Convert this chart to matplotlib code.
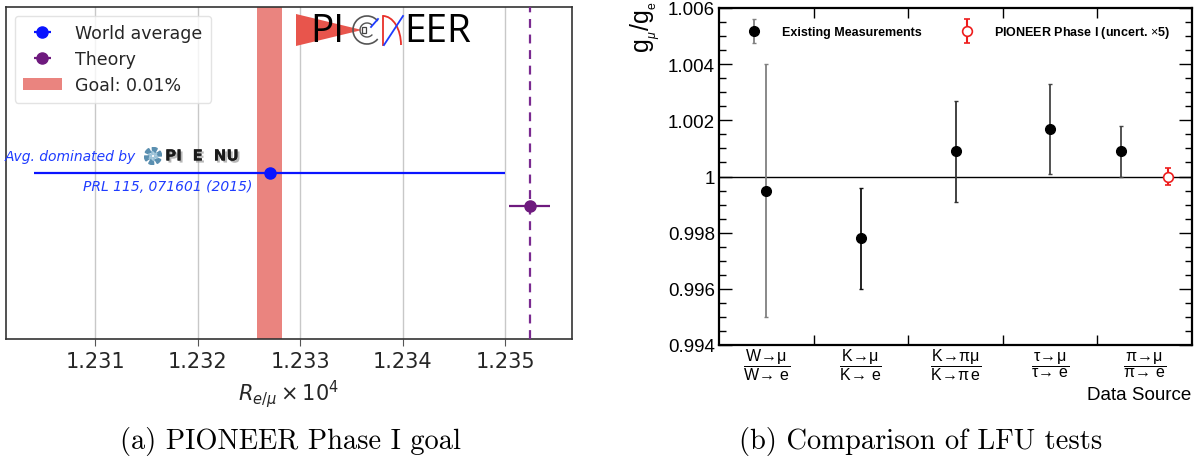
import matplotlib
matplotlib.use("Agg")
import matplotlib.pyplot as plt
import numpy as np
from matplotlib.patches import Polygon, Arc, Rectangle, Wedge
from matplotlib.legend_handler import HandlerErrorbar
import matplotlib.patheffects as pe

plt.rcParams['mathtext.fontset'] = 'custom'
plt.rcParams['mathtext.rm'] = 'Liberation Sans'
plt.rcParams['mathtext.it'] = 'Liberation Sans:italic'
plt.rcParams['mathtext.bf'] = 'Liberation Sans:bold'

# ---------------- data: panel (a) ----------------
wa_value = 1.2327          # world average R_e/mu x 10^4
wa_err = 0.0023
theory_value = 1.23524
theory_err = 0.0002
goal_rel = 1e-4            # 0.01 %
row_world = 0.5
row_theory = 0.4
xticks_a = [1.231, 1.232, 1.233, 1.234, 1.235]

# ---------------- data: panel (b) ----------------
cat_labels = [r'$\dfrac{\mathrm{W\!\rightarrow\!\mu}}{\mathrm{W\!\rightarrow\,e}}$',
              r'$\dfrac{\mathrm{K\!\rightarrow\!\mu}}{\mathrm{K\!\rightarrow\,e}}$',
              r'$\dfrac{\mathrm{K\!\rightarrow\!\pi\mu}}{\mathrm{K\!\rightarrow\!\pi\,e}}$',
              r'$\dfrac{\mathrm{\tau\!\rightarrow\!\mu}}{\mathrm{\tau\!\rightarrow\,e}}$',
              r'$\dfrac{\mathrm{\pi\!\rightarrow\!\mu}}{\mathrm{\pi\!\rightarrow\,e}}$']
meas_bin = [0, 1, 2, 3, 4]
meas_val = [0.9995, 0.9978, 1.0009, 1.0017, 1.0009]
meas_err = [0.0045, 0.0018, 0.0018, 0.0016, 0.0009]
pioneer_bin = 4
pioneer_val = 1.0000
pioneer_err = 0.0003
yticks_b = [0.994, 0.996, 0.998, 1.0, 1.002, 1.004, 1.006]
ytick_labels_b = ['0.994', '0.996', '0.998', '1', '1.002', '1.004', '1.006']

W, H = 1199, 460
fig = plt.figure(figsize=(W / 100, H / 100), dpi=100)

def box(x0, y0, x1, y1):
    return [x0 / W, 1 - y1 / H, (x1 - x0) / W, (y1 - y0) / H]

# ================= panel (a) =================
axa = fig.add_axes(box(6, 8, 572, 340))
blue = '#0a14ff'
purple = '#6e1a7e'
band_col = '#ea847f'
half = wa_value * goal_rel
axa.axvspan(wa_value - half, wa_value + half, color=band_col, lw=0, label='Goal: 0.01%', zorder=1)
axa.errorbar([wa_value], [row_world], xerr=[wa_err], fmt='o', color=blue, ms=8, lw=1.6,
             label='World average', zorder=4)
axa.errorbar([theory_value], [row_theory], xerr=[theory_err], fmt='o', color=purple, ms=8,
             lw=1.6, label='Theory', zorder=4)
axa.axvline(theory_value, color='#7a2a90', ls='--', lw=1.6, dashes=(4, 3), zorder=3)
axa.set_xlim(1.23013, 1.23565)
axa.set_ylim(0, 1)
axa.set_yticks([])
axa.set_xticks(xticks_a)
axa.set_xticklabels([f'{v:.3f}' for v in xticks_a], fontsize=15, color='#262626')
axa.tick_params(axis='x', length=5, color='#555555', pad=4)
axa.grid(axis='x', color='#c8c8c8', lw=1)
axa.set_axisbelow(True)
for s in axa.spines.values():
    s.set_color('#333333')
    s.set_linewidth(1.2)
axa.set_xlabel(r'$R_{e/\mu}\times10^4$', fontsize=15, color='#262626',
               math_fontfamily='dejavusans', labelpad=4)
h, l = axa.get_legend_handles_labels()
order = [l.index('World average'), l.index('Theory'), l.index('Goal: 0.01%')]
leg = axa.legend([h[i] for i in order], [l[i] for i in order], loc='upper left',
                 fontsize=12.5, framealpha=0.8, edgecolor='#dddddd', handlelength=2.2,
                 labelspacing=0.45, borderpad=0.5)
for t in leg.get_texts():
    t.set_color('#262626')

def afrac(px, py):
    return ((px - 6) / 566, (340 - py) / 332)

axa.text(*afrac(136, 157), 'Avg. dominated by', transform=axa.transAxes, ha='right', va='center',
         fontsize=10, style='italic', color='#1f3cff')
axa.text(*afrac(252, 187), 'PRL 115, 071601 (2015)', transform=axa.transAxes, ha='right', va='center',
         fontsize=10, style='italic', color='#1f3cff')
axa.text(*afrac(165, 157), 'PI  E  NU', transform=axa.transAxes, ha='left', va='center',
         fontsize=11, fontweight='bold', color='#1a1a1a', family='DejaVu Sans',
         path_effects=[pe.withSimplePatchShadow(offset=(1.5, -1.5), shadow_rgbFace='#888888', alpha=0.6),
                       pe.Normal()])

# PIENU swirl icon
ic = fig.add_axes(box(144, 146, 162, 168))
ic.set_xlim(-1, 1); ic.set_ylim(-1, 1); ic.set_aspect('equal'); ic.axis('off')
for k in range(6):
    ang = k * 60
    ic.add_patch(Wedge((0, 0), 0.95, ang, ang + 35, width=0.45, color='#5a8fb0'))
    ic.add_patch(Wedge((0, 0), 0.5, ang + 30, ang + 60, width=0.3, color='#9cc3d8'))

# PIONEER logo (pixel coordinates, y upward = -py)
lg = fig.add_axes(box(290, 6, 480, 56))
lg.set_xlim(290, 480); lg.set_ylim(-56, -6); lg.set_aspect('equal'); lg.axis('off')
lg.add_patch(Polygon([[296, -15], [296, -47], [362, -31]], closed=True, color='#e8554c', lw=0))
lg.text(310, -32, 'PI', fontsize=28, family='Open Sans', va='center', ha='left', color='black')
lg.add_patch(Arc((367, -31), 28, 28, theta1=40, theta2=320, color='#555555', lw=1.2))
lg.add_patch(Arc((367, -31), 14, 14, theta1=40, theta2=320, color='#555555', lw=1.0))
lg.add_patch(Rectangle((362, -34), 4, 6, fill=False, ec='#444444', lw=0.9))
lg.plot([371, 378], [-28, -20], color='#1e3cff', lw=1.3)
lg.plot([383, 383], [-17, -46], color='#e8302a', lw=1.3)
lg.add_patch(Arc((383, -46), 36, 58, theta1=0, theta2=90, color='#e8302a', lw=1.3))
lg.plot([384, 403], [-46, -17], color='#1e3cff', lw=1.3)
lg.text(404, -32, 'EER', fontsize=28, family='Open Sans', va='center', ha='left', color='black')

# ================= panel (b) =================
axb = fig.add_axes(box(719, 9, 1192, 346))
hf = 'Liberation Sans'
mx = [b + 0.5 for b in meas_bin]
mx[-1] = meas_bin[-1] + 0.25
bar_cols = ['#808080', '#111111', '#333333', '#444444', '#444444']
first_eb = None
for i in range(len(meas_val)):
    eb = axb.errorbar([mx[i]], [meas_val[i]], yerr=[meas_err[i]], fmt='o', color='black',
                      ecolor=bar_cols[i], ms=7, elinewidth=1.3, capsize=1.5, capthick=1.0, zorder=4)
    if first_eb is None:
        first_eb = eb
pe_eb = axb.errorbar([pioneer_bin + 0.75], [pioneer_val], yerr=[pioneer_err], fmt='o', mfc='white',
                     mec='#ee1c1c', ecolor='#ee1c1c', ms=7, mew=1.2, elinewidth=1.5, capsize=2,
                     capthick=1.5, zorder=4)
axb.axhline(1.0, color='black', lw=1.0, zorder=2)
axb.set_xlim(0, 5)
axb.set_ylim(0.994, 1.006)
axb.set_yticks(yticks_b)
axb.set_yticklabels(ytick_labels_b, fontsize=13.5, family=hf)
axb.set_yticks(np.arange(0.994, 1.00601, 0.0005), minor=True)
axb.set_xticks([1, 2, 3, 4])
axb.set_xticklabels([])
axb.tick_params(axis='y', which='major', direction='in', length=9.5, width=1, left=True, right=True, pad=3)
axb.tick_params(axis='y', which='minor', direction='in', length=5, width=1, left=True, right=True)
axb.tick_params(axis='x', which='major', direction='in', length=7, width=1, top=True, bottom=True)
for s in axb.spines.values():
    s.set_linewidth(1.6)
    s.set_color('black')
for i, lab in enumerate(cat_labels):
    axb.text(i + 0.5, -0.055, lab, transform=axb.get_xaxis_transform(), ha='center', va='center',
             fontsize=11.5)
fig.text(1191 / W, 1 - 395 / H, 'Data Source', ha='right', va='center', fontsize=13.5, family=hf)
fig.text(645 / W, 1 - 1 / H, r'$\mathrm{g}_{_\mu}/\mathrm{g}_{_\mathrm{e}}$', rotation=90,
         ha='center', va='top', fontsize=18)
lb = axb.legend([first_eb, pe_eb], ['Existing Measurements', r'PIONEER Phase I (uncert. $\times$5)'],
                ncol=2, loc='upper left', bbox_to_anchor=(0.03, 0.985), frameon=False,
                prop={'family': hf, 'weight': 'bold', 'size': 9}, handlelength=1.6,
                columnspacing=2.8, handletextpad=1.4,
                handler_map={type(first_eb): HandlerErrorbar(xerr_size=0.5, yerr_size=0.95)})

# ================= captions =================
fig.text(291 / W, 1 - 449 / H, '(a) PIONEER Phase I goal', ha='center',
         va='baseline', fontsize=20.5, family='cmr10')
fig.text(921 / W, 1 - 449 / H, '(b) Comparison of LFU tests', ha='center',
         va='baseline', fontsize=20.5, family='cmr10')

fig.savefig('out.png', dpi=100)
